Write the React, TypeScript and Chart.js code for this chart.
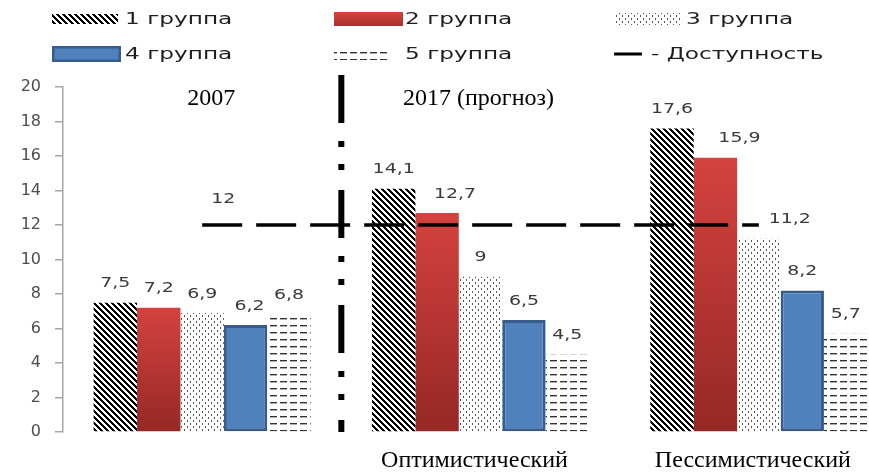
import React, { useEffect, useRef } from 'react';
import { Chart, registerables } from 'chart.js';

Chart.register(...registerables);

// ---------- data ----------
const categories = ['', 'Оптимистический', 'Пессимистический'];
const periodTitles = ['2007', '2017 (прогноз)'];
const seriesNames = ['1 группа', '2 группа', '3 группа', '4 группа', '5 группа'];
const group1Values = [7.5, 14.1, 17.6];
const group2Values = [7.2, 12.7, 15.9];
const group3Values = [6.9, 9, 11.2];
const group4Values = [6.2, 6.5, 8.2];
const group5Values = [6.8, 4.5, 5.7];
const accessName = 'Доступность';
const accessValues = [12, 12, 12];
const yMin = 0;
const yMax = 20;
const yStep = 2;

// ---------- styling ----------
const SANS = '"DejaVu Sans", sans-serif';
const SERIF = '"Liberation Serif", "Times New Roman", serif';
const STRETCH = 1.35;
const LEGEND_STRETCH = 1.45;

// label nudges (dataset index : category index) -> px to the right
const labelNudge: Record<string, number> = {
  '2:1': 18,
  '2:2': 24,
  '3:2': 31,
  '4:0': 4,
};

function tile(w: number, h: number, draw: (g: CanvasRenderingContext2D) => void) {
  const c = document.createElement('canvas');
  c.width = w;
  c.height = h;
  const g = c.getContext('2d')!;
  g.fillStyle = '#ffffff';
  g.fillRect(0, 0, w, h);
  draw(g);
  return g.createPattern(c, 'repeat')!;
}

function makePatterns() {
  const hatch = tile(6, 6, (g) => {
    g.fillStyle = '#000';
    for (let y = 0; y < 6; y++) {
      for (let x = 0; x < 6; x++) {
        const m = (((x - y) % 6) + 6) % 6;
        if (m < 3) g.fillRect(x, y, 1, 1);
      }
    }
  });
  const dots = tile(6, 6, (g) => {
    g.fillStyle = '#555';
    g.fillRect(1, 0, 1, 2);
    g.fillRect(4, 3, 1, 2);
  });
  const dashes = tile(10, 7, (g) => {
    g.fillStyle = '#333';
    g.fillRect(0, 3, 7, 1.4);
  });
  return { hatch, dots, dashes };
}

function redGradient(c: CanvasRenderingContext2D, top: number, bottom: number) {
  const g = c.createLinearGradient(0, top, 0, bottom);
  g.addColorStop(0, '#d4423e');
  g.addColorStop(1, '#952826');
  return g;
}

function fmt(v: number) {
  return String(v).replace('.', ',');
}

function stretchedText(
  ctx: CanvasRenderingContext2D,
  text: string,
  x: number,
  y: number,
  sx: number,
  align: CanvasTextAlign
) {
  ctx.save();
  ctx.translate(x, y);
  ctx.scale(sx, 1);
  ctx.textAlign = align;
  ctx.fillText(text, 0, 0);
  ctx.restore();
}

export default function App() {
  const ref = useRef<HTMLCanvasElement | null>(null);

  useEffect(() => {
    const canvas = ref.current;
    if (!canvas) return;
    const pats = makePatterns();

    const redFill = (c: any) => {
      const chart = c.chart;
      if (!chart.chartArea || c.type !== 'data') return '#c43a36';
      const ys = chart.scales.y;
      const v = c.parsed ? c.parsed.y : c.raw;
      return redGradient(chart.ctx, ys.getPixelForValue(v), ys.getPixelForValue(0));
    };

    const decorPlugin = {
      id: 'decor',
      afterDatasetsDraw(chart: any) {
        const { ctx, chartArea } = chart;
        const xs = chart.scales.x;

        // separator between 2007 and 2017
        const sepX = (xs.getPixelForValue(0) + xs.getPixelForValue(1)) / 2;
        ctx.save();
        ctx.strokeStyle = '#000';
        ctx.lineWidth = 6;
        ctx.setLineDash([48, 18, 6, 17, 6, 20]);
        ctx.beginPath();
        ctx.moveTo(sepX, chartArea.top - 12);
        ctx.lineTo(sepX, chartArea.bottom);
        ctx.stroke();
        ctx.restore();

        // period titles
        ctx.save();
        ctx.font = `24px ${SERIF}`;
        ctx.fillStyle = '#000';
        ctx.textAlign = 'center';
        ctx.textBaseline = 'middle';
        const titleShift = [9, -2];
        periodTitles.forEach((t, i) => {
          ctx.fillText(t, xs.getPixelForValue(i) + titleShift[i], chartArea.top + 12);
        });
        ctx.restore();

        // value labels
        ctx.save();
        ctx.font = `14px ${SANS}`;
        ctx.fillStyle = '#3a3a3a';
        ctx.textBaseline = 'middle';
        chart.data.datasets.forEach((ds: any, di: number) => {
          const meta = chart.getDatasetMeta(di);
          if (meta.type === 'bar') {
            meta.data.forEach((el: any, i: number) => {
              const n = labelNudge[`${di}:${i}`] || 0;
              stretchedText(ctx, fmt(ds.data[i]), el.x + n, el.y - 19, STRETCH, 'center');
            });
          } else if (meta.type === 'line') {
            const el = meta.data[0];
            stretchedText(ctx, fmt(ds.data[0]), el.x + 21, el.y - 26, STRETCH, 'center');
          }
        });
        ctx.restore();
      },
      afterDraw(chart: any) {
        const ctx = chart.ctx;
        const iconX = [52, 334, 614];
        const textX = [125, 405, 686];
        const rowY = [19, 54];
        const items = [
          { name: seriesNames[0], kind: 'hatch' },
          { name: seriesNames[1], kind: 'red' },
          { name: seriesNames[2], kind: 'dots' },
          { name: seriesNames[3], kind: 'blue' },
          { name: seriesNames[4], kind: 'dashes' },
          { name: '- ' + accessName, kind: 'line' },
        ];
        items.forEach((it, k) => {
          const col = k % 3;
          const row = Math.floor(k / 3);
          const x = iconX[col];
          const y = rowY[row];
          ctx.save();
          let tx = textX[col];
          if (it.kind === 'hatch' || it.kind === 'dots' || it.kind === 'dashes') {
            ctx.fillStyle = (pats as any)[it.kind];
            const w = it.kind === 'dashes' ? 56 : 66;
            const h = it.kind === 'hatch' ? 10 : 12;
            ctx.fillRect(x, y - h / 2, w, h);
          } else if (it.kind === 'red') {
            ctx.fillStyle = redGradient(ctx, y - 7, y + 14);
            ctx.fillRect(x, y - 7, 69, 14);
          } else if (it.kind === 'blue') {
            ctx.fillStyle = '#4f81bd';
            ctx.fillRect(x, y - 8, 69, 16);
            ctx.strokeStyle = '#375c8c';
            ctx.lineWidth = 2.5;
            ctx.strokeRect(x + 1.25, y - 6.75, 66.5, 13.5);
          } else if (it.kind === 'line') {
            ctx.strokeStyle = '#000';
            ctx.lineWidth = 3;
            ctx.beginPath();
            ctx.moveTo(x, y);
            ctx.lineTo(x + 28, y);
            ctx.stroke();
            tx = x + 37;
          }
          ctx.restore();
          ctx.save();
          ctx.font = `16px ${SANS}`;
          ctx.fillStyle = '#1e1e1e';
          ctx.textBaseline = 'middle';
          stretchedText(ctx, it.name, tx, y + 1, LEGEND_STRETCH, 'left');
          ctx.restore();
        });
      },
    };

    const chart = new Chart(canvas, {
      type: 'bar',
      data: {
        labels: categories,
        datasets: [
          {
            type: 'line',
            label: accessName,
            data: accessValues,
            borderColor: '#000',
            borderWidth: 3.5,
            borderDash: [40, 14],
            pointRadius: 0,
            fill: false,
            order: 0,
          } as any,
          { type: 'bar', label: seriesNames[0], data: group1Values, backgroundColor: pats.hatch, order: 1 },
          { type: 'bar', label: seriesNames[1], data: group2Values, backgroundColor: redFill, order: 1 },
          { type: 'bar', label: seriesNames[2], data: group3Values, backgroundColor: pats.dots, order: 1 },
          {
            type: 'bar',
            label: seriesNames[3],
            data: group4Values,
            backgroundColor: '#4f81bd',
            borderColor: '#375c8c',
            borderWidth: 3,
            borderSkipped: false,
            order: 1,
          },
          { type: 'bar', label: seriesNames[4], data: group5Values, backgroundColor: pats.dashes, order: 1 },
        ],
      },
      options: {
        responsive: false,
        animation: false,
        devicePixelRatio: 1,
        layout: { padding: { top: 87, left: 0, right: 0, bottom: 0 } },
        datasets: { bar: { categoryPercentage: 0.78, barPercentage: 1 } } as any,
        plugins: { legend: { display: false }, tooltip: { enabled: false } },
        scales: {
          x: {
            type: 'category',
            grid: { display: false, drawTicks: false },
            border: { display: false },
            ticks: {
              font: { family: SERIF, size: 24 },
              color: '#000',
              padding: 14,
              labelOffset: -6,
              maxRotation: 0,
              autoSkip: false,
            },
            afterFit: (s: any) => {
              s.height = 43;
            },
          },
          y: {
            min: yMin,
            max: yMax,
            ticks: {
              stepSize: yStep,
              font: { family: SANS, size: 16 },
              color: '#4d4d4d',
              padding: 14,
            },
            grid: { drawOnChartArea: false, drawTicks: true, tickLength: 8, color: '#a6a6a6', lineWidth: 1.5 },
            border: { display: true, color: '#a6a6a6', width: 1.5 },
            afterFit: (s: any) => {
              s.width = 63;
            },
          },
        },
      },
      plugins: [decorPlugin],
    });

    return () => chart.destroy();
  }, []);

  return (
    <div
      style={{
        position: 'fixed',
        left: 0,
        top: 0,
        width: 869,
        height: 475,
        overflow: 'hidden',
        background: '#fff',
      }}
    >
      <canvas ref={ref} width={898} height={475} style={{ display: 'block', width: 898, height: 475 }} />
    </div>
  );
}
